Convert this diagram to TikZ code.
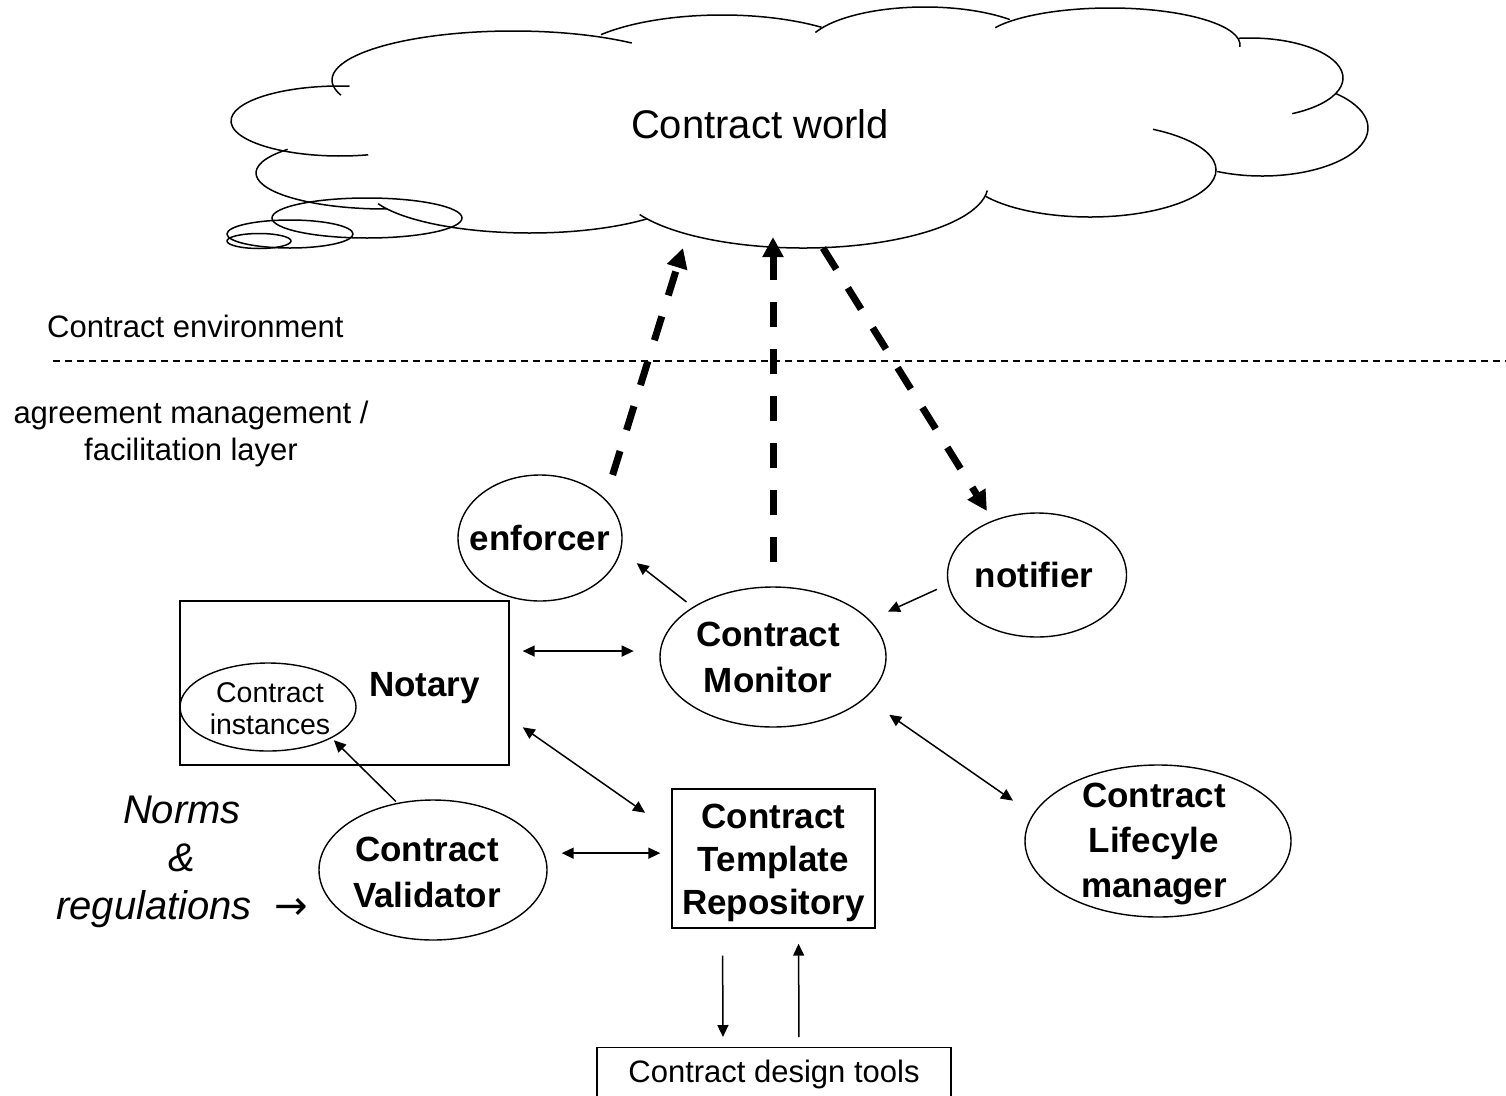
\documentclass[tikz,border=0pt]{standalone}
\usepackage{fontspec}
\setmainfont{Liberation Sans}
\newfontfamily\arrowfont{DejaVu Sans}
\usetikzlibrary{arrows.meta,shapes.geometric}
\tikzset{
  oval/.style={draw, ellipse, line width=1.4pt, inner sep=0pt},
  box/.style={draw, rectangle, line width=1.4pt, inner sep=0pt},
  bold/.style={font=\fontsize{35}{46}\selectfont\bfseries, align=center, inner sep=0pt},
  txt/.style={font=\fontsize{31}{37}\selectfont, align=center, inner sep=0pt},
  link/.style={line width=1.5pt, -{Triangle[length=12pt,width=11pt]}},
  both/.style={line width=1.5pt, {Triangle[length=12pt,width=11pt]}-{Triangle[length=12pt,width=11pt]}},
  flow/.style={line width=7pt, dash pattern=on 25pt off 22pt, -{Triangle[length=20pt,width=20pt]}},
  puff/.style={line width=1.5pt},
}
\begin{document}
\begin{tikzpicture}[x=1pt,y=1pt]
\useasboundingbox (0,0) rectangle (1506,-1095);
% cloud
\foreach \cx/\cy/\rx/\ry/\a/\b in {340/121/109/35/85/285, 385/173/129/36/139/271, 530/185/165/48/203/315, 803/185/185/63/208/355, 1090/170/126/47/-146/60, 1262/128/106/48/-115/46, 1250/78/93/40/-63/97, 1110/45/130/37/-3/152, 925/50/120/43/45/156, 722/70/158/55/51/140, 513/80/181/49/49/198}
  \draw[puff] (\cx,-\cy) ++(\a:{\rx} and {\ry}) arc[start angle=\a, end angle=\b, x radius=\rx, y radius=\ry];
\foreach \cx/\cy/\rx/\ry in {367/218/95/20, 290/234/63/14, 259/241/32/7.5}
  \draw[puff] (\cx,-\cy) ellipse[x radius=\rx, y radius=\ry];
\node[font=\fontsize{40}{48}\selectfont, inner sep=0pt] (world) at (760,-124) {Contract world};
\coordinate (worldL) at (683,-248);
\coordinate (worldM) at (773,-237);
\coordinate (worldR) at (823,-248);

% layers
\node[txt, anchor=base west] (env) at (47,-337) {Contract environment};
\draw[line width=1.3pt, dash pattern=on 7pt off 5pt] (53,-361) -- (1506,-361);
\node[txt] (layer) at (191,-434) {agreement management /\\facilitation layer};

% components
\node[oval, minimum width=164, minimum height=126, label={[bold]center:enforcer}] (enforcer) at (540,-538) {};
\node[oval, minimum width=179, minimum height=124, label={[bold, xshift=-3]center:notifier}] (notifier) at (1037,-575) {};
\node[oval, minimum width=226, minimum height=140, label={[bold, xshift=-5]center:Contract\\Monitor}] (monitor) at (773,-657) {};
\node[box, minimum width=329, minimum height=164, label={[bold, xshift=80, yshift=-5]center:Notary}] (notary) at (344.5,-683) {};
\node[oval, minimum width=176, minimum height=88, label={[font=\fontsize{28.5}{32}\selectfont, align=center, inner sep=0pt, xshift=2, yshift=-2]center:Contract\\instances}] (instances) at (268,-707) {};
\node[oval, minimum width=228, minimum height=140, label={[bold, xshift=-6, yshift=-2]center:Contract\\Validator}] (validator) at (433,-870) {};
\node[box, minimum width=203, minimum height=139, label={[bold, yshift=-4, font=\fontsize{35}{43}\selectfont\bfseries]center:Contract\\Template\\Repository}] (template) at (773.5,-858.5) {};
\node[oval, minimum width=266, minimum height=152, label={[bold, xshift=-4, yshift=-3, font=\fontsize{35}{45}\selectfont\bfseries]center:Contract\\Lifecyle\\manager}] (lifecycle) at (1158,-841) {};
\node[box, txt, minimum width=354, minimum height=54, anchor=north] (tools) at (774,-1047) {Contract design tools};
\node[font=\fontsize{40}{48}\selectfont\itshape, align=center, inner sep=0pt] (norms) at (182,-862) {Norms\\\&\\regulations\hspace{11pt} {\arrowfont\upshape →}};

% connectors
\draw[flow, shorten <=25] (enforcer.31) -- (worldL);
\draw[flow, shorten <=24] (monitor.north) -- (worldM);
\draw[flow, shorten >=11] (worldR) -- (notifier.129);
\draw[link, shorten <=8, shorten >=20] (monitor.148) -- (enforcer.-9);
\draw[link, shorten <=12, shorten >=20] (notifier.186) -- (monitor.21);
\draw[both, shorten <=13, shorten >=26] (notary.east |- monitor.177) -- (monitor.177);
\draw[both, shorten <=16, shorten >=32] (notary.-12) -- (template.165);
\draw[both, shorten <=29, shorten >=24] (monitor.-24.5) -- (lifecycle.168);
\draw[link, shorten <=2, shorten >=3] (validator.118) -- (instances.-26);
\draw[both, shorten <=14, shorten >=11] (validator.east |- template.177) -- (template.177);
\draw[link, shorten <=27, shorten >=10] ([xshift=-51]template.south) -- ([xshift=-51]tools.north);
\draw[link, shorten <=10, shorten >=15] ([xshift=25]tools.north) -- ([xshift=25]template.south);
\end{tikzpicture}
\end{document}
